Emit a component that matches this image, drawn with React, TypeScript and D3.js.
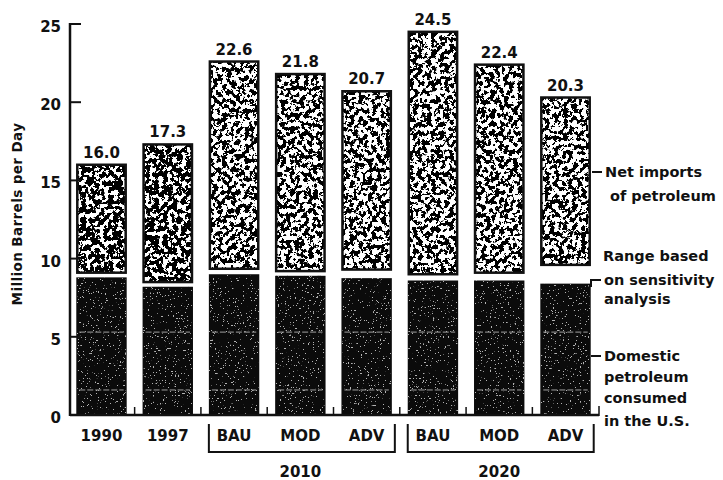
import * as d3 from "d3"

const categories = ["1990", "1997", "2010 BAU", "2010 MOD", "2010 ADV", "2020 BAU", "2020 MOD", "2020 ADV"]
const tickLabels = ["1990", "1997", "BAU", "MOD", "ADV", "BAU", "MOD", "ADV"]
// total consumption (top of bar)
const totals = [16.0, 17.3, 22.6, 21.8, 20.7, 24.5, 22.4, 20.3]
// domestic petroleum (black part)
const domestic = [8.8, 8.2, 9.0, 8.9, 8.75, 8.6, 8.6, 8.4]
// bottom of the net imports part (top of the sensitivity range)
const rangeTop = [9.1, 8.5, 9.35, 9.2, 9.3, 9.0, 9.1, 9.6]
const denseStipple = [true, true, false, false, false, false, false, false]
const yTicks = [0, 5, 10, 15, 20, 25]
const darkLines = [1.6, 5.3]
const groupLabels = ["2010", "2020"]
const groupFirst = [2, 5]
const groupLast = [4, 7]

const W = 723
const H = 480
const font = "'DejaVu Sans', sans-serif"

export default function App() {
  const y = d3.scaleLinear().domain([0, 25]).range([415, 24])
  const x = d3.scaleBand<string>().domain(categories).range([70, 597]).paddingInner(0.27).paddingOuter(0.11)
  const bw = x.bandwidth()
  const axisX = 70
  const baseY = y(0)

  const betweenTicks = categories.slice(1).map((c, i) => ((x(categories[i]) ?? 0) + bw + (x(c) ?? 0)) / 2)

  return (
    <div style={{ position: "absolute", left: 0, top: 0 }}>
      <svg width={W} height={H} style={{ display: "block", background: "#fff" }}>
        <defs>
          <filter id="speckDense" x="0" y="0" width="1" height="1">
            <feTurbulence type="fractalNoise" baseFrequency="0.22" numOctaves="4" seed="4" />
            <feColorMatrix type="matrix" values="0 0 0 0 0  0 0 0 0 0  0 0 0 0 0  40 0 0 0 -18.3" />
          </filter>
          <filter id="speckLight" x="0" y="0" width="1" height="1">
            <feTurbulence type="fractalNoise" baseFrequency="0.22" numOctaves="4" seed="9" />
            <feColorMatrix type="matrix" values="0 0 0 0 0  0 0 0 0 0  0 0 0 0 0  40 0 0 0 -19.8" />
          </filter>
          <filter id="speckDark" x="0" y="0" width="1" height="1">
            <feTurbulence type="fractalNoise" baseFrequency="0.6" numOctaves="2" seed="2" />
            <feColorMatrix type="matrix" values="0 0 0 0 0.45  0 0 0 0 0.45  0 0 0 0 0.45  30 0 0 0 -20.5" />
          </filter>
        </defs>

        {/* bars */}
        {categories.map((c, i) => {
          const x0 = x(c) ?? 0
          const yTop = y(totals[i])
          const yRange = y(rangeTop[i])
          const yDom = y(domestic[i])
          return (
            <g key={c}>
              <rect x={x0} y={yTop} width={bw} height={yRange - yTop} fill="#fff" />
              <rect
                x={x0}
                y={yTop}
                width={bw}
                height={yRange - yTop}
                fill="#fff"
                filter={`url(#${denseStipple[i] ? "speckDense" : "speckLight"})`}
              />
              <rect x={x0} y={yTop} width={bw} height={yRange - yTop} fill="none" stroke="#111" strokeWidth={2.5} />
              <rect x={x0 - 1} y={yDom} width={bw + 2} height={baseY - yDom} fill="#0b0b0b" />
              <rect x={x0} y={yDom} width={bw} height={baseY - yDom} fill="#000" filter="url(#speckDark)" />
              {darkLines.map((v) => (
                <line
                  key={v}
                  x1={x0 + 2}
                  x2={x0 + bw - 2}
                  y1={y(v)}
                  y2={y(v)}
                  stroke="#a0a0a0"
                  strokeWidth={1}
                  strokeDasharray="6 2"
                />
              ))}
              <text
                x={x0 + bw / 2}
                y={yTop - 7}
                textAnchor="middle"
                fontFamily={font}
                fontWeight="bold"
                fontSize={15}
                fill="#111"
              >
                {totals[i].toFixed(1)}
              </text>
              <text
                x={x0 + bw / 2}
                y={441}
                textAnchor="middle"
                fontFamily={font}
                fontWeight="bold"
                fontSize={15}
                fill="#111"
              >
                {tickLabels[i]}
              </text>
            </g>
          )
        })}

        {/* y axis */}
        <line x1={axisX} x2={axisX} y1={y(25) - 1} y2={baseY + 1} stroke="#111" strokeWidth={2.5} />
        {yTicks.map((t) => (
          <g key={t}>
            <line x1={axisX} x2={axisX + 11} y1={y(t)} y2={y(t)} stroke="#111" strokeWidth={2} />
            <text
              x={61}
              y={y(t) + 8}
              textAnchor="end"
              fontFamily={font}
              fontWeight="bold"
              fontSize={15}
              fill="#111"
            >
              {t}
            </text>
          </g>
        ))}
        <text
          transform={`translate(22,${214}) rotate(-90)`}
          textAnchor="middle"
          fontFamily={font}
          fontWeight="bold"
          fontSize={13.5}
          letterSpacing={0.4}
          fill="#111"
        >
          Million Barrels per Day
        </text>

        {/* baseline */}
        <line x1={axisX} x2={599} y1={baseY} y2={baseY} stroke="#111" strokeWidth={2.5} />
        {betweenTicks.map((bx, i) => (
          <line key={i} x1={bx} x2={bx} y1={baseY} y2={baseY - 8} stroke="#111" strokeWidth={1.5} />
        ))}
        <line x1={599} x2={599} y1={baseY + 1} y2={baseY - 9} stroke="#111" strokeWidth={1.5} />

        {/* group brackets */}
        {groupLabels.map((g, i) => {
          const left = (x(categories[groupFirst[i]]) ?? 0) - 1
          const right = (x(categories[groupLast[i]]) ?? 0) + bw + 4
          const mid = (x(categories[groupFirst[i] + 1]) ?? 0) + bw / 2
          return (
            <g key={g}>
              <path
                d={`M${left},424 V452 H${right} V424`}
                fill="none"
                stroke="#111"
                strokeWidth={2}
              />
              <text x={mid} y={477} textAnchor="middle" fontFamily={font} fontWeight="bold" fontSize={15} fill="#111">
                {g}
              </text>
            </g>
          )
        })}

        {/* legend annotations */}
        <g fontFamily={font} fontWeight="bold" fontSize={14.5} fill="#111">
          <line x1={592} x2={602} y1={172} y2={172} stroke="#111" strokeWidth={2} />
          <text x={605} y={177}>Net imports</text>
          <text x={610} y={201}>of petroleum</text>

          <path d="M591,287 V280 H601" fill="none" stroke="#111" strokeWidth={2} />
          <text x={603} y={261}>Range based</text>
          <text x={604} y={285}>on sensitivity</text>
          <text x={604} y={304}>analysis</text>

          <line x1={591} x2={601} y1={356} y2={356} stroke="#111" strokeWidth={2} />
          <text x={604} y={361}>Domestic</text>
          <text x={604} y={382}>petroleum</text>
          <text x={604} y={403}>consumed</text>
          <text x={604} y={426}>in the U.S.</text>
        </g>
      </svg>
    </div>
  )
}
